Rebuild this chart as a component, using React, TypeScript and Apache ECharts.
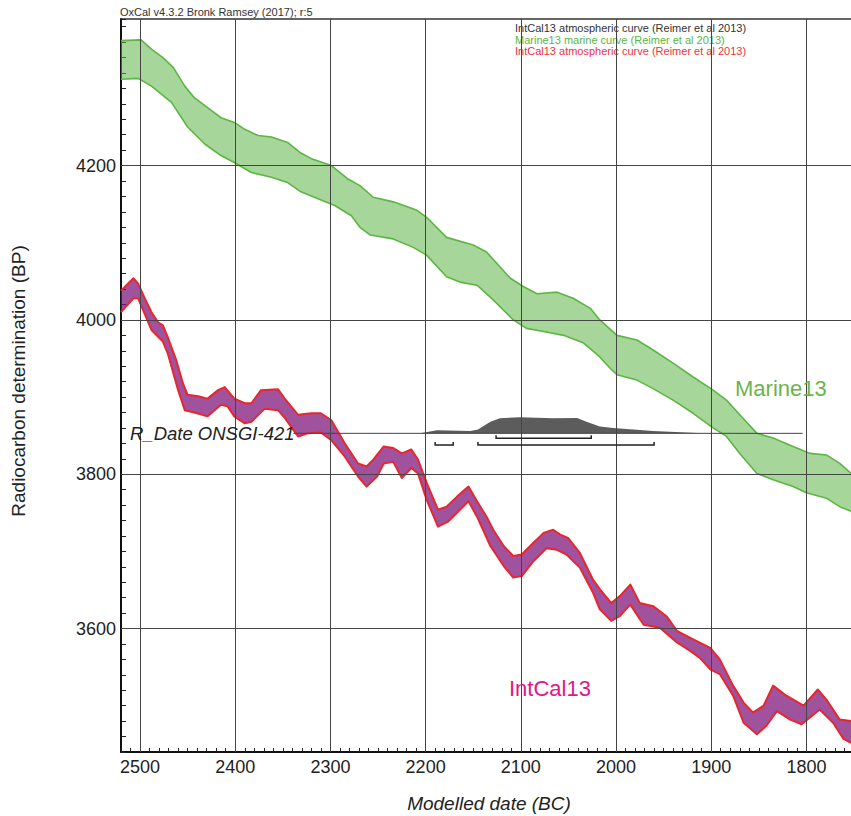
import React, { useEffect, useRef } from 'react';
import * as echarts from 'echarts';

// Axis tick labels
const xTickYears = [2500, 2400, 2300, 2200, 2100, 2000, 1900, 1800];
const yTickBP = [4200, 4000, 3800, 3600];

// Marine13 band (year BC, radiocarbon BP)
const marineUpper = [
  [2520, 4362], [2499, 4363], [2488, 4351], [2476, 4340], [2465, 4327], [2453, 4303], [2443, 4288],
  [2429, 4275], [2415, 4262], [2401, 4256], [2390, 4247], [2376, 4239], [2362, 4237], [2345, 4230],
  [2332, 4217], [2320, 4209], [2299, 4200], [2282, 4183], [2269, 4174], [2255, 4159], [2234, 4153],
  [2209, 4142], [2199, 4133], [2178, 4107], [2150, 4097], [2136, 4088], [2122, 4069], [2111, 4054],
  [2097, 4043], [2083, 4034], [2062, 4036], [2045, 4028], [2027, 4015], [2017, 4000], [1999, 3980],
  [1978, 3974], [1961, 3961], [1940, 3944], [1919, 3926], [1898, 3909], [1884, 3896], [1870, 3877],
  [1852, 3853], [1835, 3847], [1814, 3836], [1796, 3827], [1779, 3825], [1765, 3814], [1753, 3801],
];
const marineLower = [
  [2520, 4312], [2502, 4313], [2488, 4303], [2467, 4282], [2450, 4250], [2432, 4228], [2415, 4213],
  [2401, 4204], [2383, 4191], [2362, 4185], [2345, 4178], [2331, 4166], [2313, 4157], [2295, 4148],
  [2278, 4135], [2269, 4120], [2258, 4110], [2234, 4105], [2213, 4094], [2199, 4084], [2178, 4056],
  [2164, 4049], [2146, 4045], [2129, 4026], [2108, 4000], [2094, 3989], [2076, 3985], [2055, 3980],
  [2034, 3970], [2017, 3952], [2006, 3937], [1999, 3929], [1978, 3922], [1961, 3911], [1940, 3896],
  [1919, 3879], [1898, 3860], [1884, 3849], [1870, 3827], [1852, 3801], [1835, 3793], [1814, 3784],
  [1800, 3776], [1779, 3769], [1765, 3758], [1753, 3752],
];

// IntCal13 band
const intcalUpper = [
  [2520, 4038], [2507, 4054], [2502, 4047], [2495, 4028], [2488, 4010], [2481, 3997], [2476, 3993],
  [2471, 3978], [2462, 3948], [2455, 3918], [2450, 3903], [2439, 3901], [2429, 3898], [2418, 3909],
  [2411, 3913], [2401, 3898], [2390, 3892], [2383, 3892], [2373, 3909], [2355, 3910], [2348, 3898],
  [2334, 3877], [2320, 3879], [2310, 3879], [2299, 3870], [2285, 3840], [2271, 3814], [2262, 3810],
  [2255, 3819], [2244, 3836], [2234, 3834], [2225, 3827], [2215, 3832], [2208, 3819], [2199, 3789],
  [2187, 3754], [2178, 3758], [2167, 3771], [2155, 3784], [2146, 3765], [2136, 3745], [2129, 3728],
  [2118, 3707], [2108, 3694], [2099, 3696], [2087, 3711], [2076, 3724], [2066, 3728], [2059, 3722],
  [2050, 3717], [2038, 3698], [2024, 3663], [2017, 3651], [2005, 3633], [1996, 3642], [1985, 3657],
  [1975, 3633], [1961, 3629], [1947, 3616], [1936, 3597], [1922, 3588], [1901, 3575], [1891, 3560],
  [1877, 3526], [1866, 3504], [1856, 3491], [1845, 3500], [1835, 3526], [1821, 3513], [1803, 3500],
  [1788, 3521], [1779, 3508], [1765, 3482], [1753, 3480],
];
const intcalLower = [
  [2520, 4010], [2507, 4028], [2502, 4028], [2488, 3987], [2476, 3972], [2471, 3957], [2460, 3909],
  [2453, 3883], [2443, 3880], [2429, 3875], [2415, 3890], [2408, 3888], [2401, 3875], [2390, 3866],
  [2383, 3868], [2369, 3885], [2355, 3883], [2348, 3873], [2334, 3849], [2324, 3853], [2310, 3854],
  [2299, 3844], [2285, 3823], [2271, 3797], [2262, 3784], [2251, 3797], [2244, 3814], [2234, 3816],
  [2225, 3795], [2215, 3808], [2208, 3801], [2199, 3767], [2187, 3732], [2176, 3739], [2164, 3754],
  [2155, 3765], [2146, 3745], [2132, 3707], [2118, 3681], [2108, 3666], [2099, 3668], [2087, 3687],
  [2073, 3704], [2062, 3702], [2052, 3696], [2038, 3679], [2024, 3646], [2017, 3625], [2005, 3610],
  [1996, 3616], [1985, 3631], [1971, 3605], [1954, 3601], [1936, 3582], [1922, 3571], [1912, 3562],
  [1901, 3547], [1891, 3541], [1877, 3513], [1866, 3478], [1852, 3463], [1842, 3474], [1831, 3493],
  [1817, 3482], [1805, 3476], [1786, 3495], [1772, 3478], [1761, 3457], [1753, 3452],
];

// R_Date ONSGI-421 calibrated distribution (drawn on its baseline)
const rdateBaselineBP = 3853;
const rdateBaselineYears = [2339, 1804];
const rdateDist = [
  [2206, 3853], [2188, 3857], [2153, 3856], [2145, 3858], [2132, 3868], [2122, 3872.5], [2101, 3874],
  [2066, 3872.5], [2041, 3873], [2031, 3868], [2017, 3862], [2003, 3860], [1982, 3858], [1961, 3856],
  [1926, 3854], [1909, 3853],
];
// ranges: [from, to, level BP]
const rdateRanges = [
  [2126, 2026, 3846.5],
  [2190, 2171, 3838],
  [2145, 1960, 3838],
];

const legendLines = [
  { text: 'IntCal13 atmospheric curve (Reimer et al 2013)', color: '#333' },
  { text: 'Marine13 marine curve (Reimer et al 2013)', color: '#5db544' },
  { text: 'IntCal13 atmospheric curve (Reimer et al 2013)', color: '#f0323c' },
];

const FONT = "'Liberation Sans', Arial, Helvetica, sans-serif";

export default function App() {
  const ref = useRef<HTMLDivElement>(null);

  useEffect(() => {
    const chart = echarts.init(ref.current as HTMLDivElement, null, { renderer: 'svg' });

    const band = (name: string, upper: number[][], lower: number[][], fill: string, stroke: string, lw: number, z: number) => ({
      type: 'custom',
      name,
      coordinateSystem: 'cartesian2d',
      silent: true,
      z,
      data: [[upper[0][0], upper[0][1]]],
      renderItem: (_params: any, api: any) => {
        const up = upper.map((p) => api.coord(p));
        const lo = lower.map((p) => api.coord(p));
        return {
          type: 'group',
          children: [
            { type: 'polygon', shape: { points: up.concat(lo.slice().reverse()) }, style: { fill, stroke: 'none' } },
            { type: 'polyline', shape: { points: up }, style: { fill: 'none', stroke, lineWidth: lw, lineJoin: 'round' } },
            { type: 'polyline', shape: { points: lo }, style: { fill: 'none', stroke, lineWidth: lw, lineJoin: 'round' } },
          ],
        };
      },
    });

    const option: any = {
      animation: false,
      textStyle: { fontFamily: FONT },
      grid: { left: 121, top: 19, right: -3, bottom: 64, containLabel: false, outerBoundsMode: 'none' },
      xAxis: [
        {
          type: 'value',
          min: 1750,
          max: 2520,
          interval: 10,
          inverse: true,
          position: 'bottom',
          axisLine: { show: true, onZero: false, lineStyle: { color: '#111', width: 2 } },
          axisTick: { show: true, inside: true, length: 4, lineStyle: { color: '#222', width: 1 } },
          axisLabel: {
            show: true,
            margin: 6,
            fontSize: 18,
            color: '#222',
            fontFamily: FONT,
            formatter: (v: number) => (xTickYears.includes(v) ? String(v) : ''),
          },
          splitLine: { show: false },
        },
        {
          type: 'value',
          min: 1750,
          max: 2520,
          inverse: true,
          position: 'top',
          axisLine: { show: true, onZero: false, lineStyle: { color: '#333', width: 1.5 } },
          axisTick: { show: false },
          axisLabel: { show: false },
          splitLine: { show: false },
        },
      ],
      yAxis: [
        {
          type: 'value',
          min: 3440,
          max: 4390,
          interval: 20,
          axisLine: { show: true, onZero: false, lineStyle: { color: '#111', width: 2 } },
          axisTick: { show: true, inside: true, length: 5, lineStyle: { color: '#222', width: 1 } },
          axisLabel: {
            show: true,
            margin: 5,
            fontSize: 18,
            color: '#222',
            fontFamily: FONT,
            formatter: (v: number) => (yTickBP.includes(v) ? String(v) : ''),
          },
          splitLine: { show: false },
        },
      ],
      graphic: [
        { type: 'text', x: 120, y: 12, style: { text: 'OxCal v4.3.2 Bronk Ramsey (2017); r:5', fontSize: 11, fontFamily: FONT, fill: '#333', align: 'left', verticalAlign: 'middle' } },
        ...legendLines.map((l, i) => ({
          type: 'text',
          x: 515,
          y: 28 + i * 11.5,
          style: { text: l.text, fontSize: 11, fontFamily: FONT, fill: l.color, align: 'left', verticalAlign: 'middle' },
        })),
        { type: 'text', x: 130, y: 433, z: 20, style: { text: 'R_Date ONSGI-421', fontSize: 18.5, fontStyle: 'italic', fontFamily: FONT, fill: '#222', align: 'left', verticalAlign: 'middle' } },
        { type: 'text', x: 735, y: 388, z: 20, style: { text: 'Marine13', fontSize: 22, fontFamily: FONT, fill: '#6cb34a', align: 'left', verticalAlign: 'middle' } },
        { type: 'text', x: 509, y: 688, z: 20, style: { text: 'IntCal13', fontSize: 22, fontFamily: FONT, fill: '#e0168a', align: 'left', verticalAlign: 'middle' } },
        { type: 'text', x: 18, y: 381, rotation: Math.PI / 2, style: { text: 'Radiocarbon determination (BP)', fontSize: 19, fontFamily: FONT, fill: '#222', align: 'center', verticalAlign: 'middle' } },
        { type: 'text', x: 489, y: 803, style: { text: 'Modelled date (BC)', fontSize: 19, fontStyle: 'italic', fontFamily: FONT, fill: '#222', align: 'center', verticalAlign: 'middle' } },
      ],
      series: [
        {
          type: 'line',
          name: 'grid',
          data: [],
          silent: true,
          z: 1,
          markLine: {
            silent: true,
            symbol: ['none', 'none'],
            label: { show: false },
            animation: false,
            lineStyle: { color: '#444', width: 1, type: 'solid' },
            emphasis: { disabled: true },
            data: [
              ...xTickYears.map((y) => ({ xAxis: y })),
              ...yTickBP.map((v) => ({ yAxis: v })),
            ],
          },
        },
        band('Marine13', marineUpper, marineLower, 'rgba(95,181,72,0.55)', '#5db544', 1.6, 2),
        band('IntCal13', intcalUpper, intcalLower, 'rgba(125,15,118,0.72)', '#e8262f', 2, 3),
        {
          type: 'custom',
          name: 'R_Date dist',
          coordinateSystem: 'cartesian2d',
          silent: true,
          z: 4,
          data: [[rdateDist[0][0], rdateDist[0][1]]],
          renderItem: (_p: any, api: any) => {
            const pts = rdateDist.map((p) => api.coord(p));
            return { type: 'polygon', shape: { points: pts }, style: { fill: '#5c5c5c', stroke: 'none' } };
          },
        },
        {
          type: 'line',
          name: 'R_Date baseline',
          silent: true,
          z: 4,
          symbol: 'none',
          data: rdateBaselineYears.map((y) => [y, rdateBaselineBP]),
          lineStyle: { color: '#444', width: 1 },
        },
        {
          type: 'custom',
          name: 'R_Date ranges',
          coordinateSystem: 'cartesian2d',
          silent: true,
          z: 5,
          encode: { x: [0, 1], y: 2 },
          data: rdateRanges,
          renderItem: (_p: any, api: any) => {
            const a = api.coord([api.value(0), api.value(2)]);
            const b = api.coord([api.value(1), api.value(2)]);
            return {
              type: 'polyline',
              shape: { points: [[a[0], a[1] - 3], a, b, [b[0], b[1] - 3]] },
              style: { fill: 'none', stroke: '#222', lineWidth: 1.5 },
            };
          },
        },
      ],
    };

    chart.setOption(option);
    return () => chart.dispose();
  }, []);

  return <div ref={ref} style={{ position: 'absolute', left: 0, top: 0, width: 851, height: 816, background: '#fff' }} />;
}
